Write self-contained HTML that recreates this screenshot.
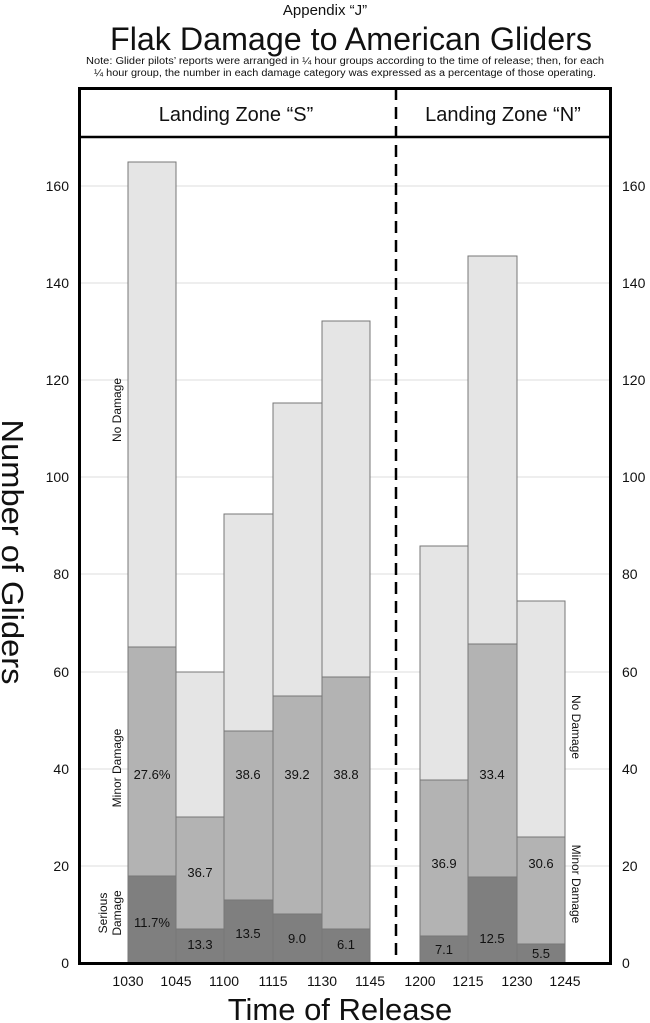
<!DOCTYPE html>
<html><head><style>body{margin:0;background:#fff}svg{display:block}text{font-family:"Liberation Sans",Arial,sans-serif;fill:#111}</style></head>
<body>
<svg width="650" height="1023" viewBox="0 0 650 1023">
<text x="325" y="15" font-size="15" text-anchor="middle">Appendix “J”</text>
<text x="351" y="50" font-size="32" text-anchor="middle" textLength="482" lengthAdjust="spacingAndGlyphs">Flak Damage to American Gliders</text>
<text x="345" y="64" font-size="10" text-anchor="middle" textLength="518" lengthAdjust="spacingAndGlyphs">Note: Glider pilots’ reports were arranged in ¼ hour groups according to the time of release; then, for each</text>
<text x="345" y="76" font-size="10" text-anchor="middle" textLength="502" lengthAdjust="spacingAndGlyphs">¼ hour group, the number in each damage category was expressed as a percentage of those operating.</text>
<g stroke="#ddd" stroke-width="1">
<line x1="80" x2="609" y1="866" y2="866"/><line x1="80" x2="609" y1="769" y2="769"/><line x1="80" x2="609" y1="672" y2="672"/><line x1="80" x2="609" y1="574" y2="574"/><line x1="80" x2="609" y1="477" y2="477"/><line x1="80" x2="609" y1="380" y2="380"/><line x1="80" x2="609" y1="283" y2="283"/><line x1="80" x2="609" y1="186" y2="186"/>
</g>
<g stroke="#777" stroke-width="1">
<rect x="128" y="162" width="48" height="801" fill="#e5e5e5"/><rect x="128" y="647" width="48" height="316" fill="#b3b3b3"/><rect x="128" y="876" width="48" height="87" fill="#7f7f7f"/>
<rect x="176" y="672" width="48" height="291" fill="#e5e5e5"/><rect x="176" y="817" width="48" height="146" fill="#b3b3b3"/><rect x="176" y="929" width="48" height="34" fill="#7f7f7f"/>
<rect x="224" y="514" width="49" height="449" fill="#e5e5e5"/><rect x="224" y="731" width="49" height="232" fill="#b3b3b3"/><rect x="224" y="900" width="49" height="63" fill="#7f7f7f"/>
<rect x="273" y="403" width="49" height="560" fill="#e5e5e5"/><rect x="273" y="696" width="49" height="267" fill="#b3b3b3"/><rect x="273" y="914" width="49" height="49" fill="#7f7f7f"/>
<rect x="322" y="321" width="48" height="642" fill="#e5e5e5"/><rect x="322" y="677" width="48" height="286" fill="#b3b3b3"/><rect x="322" y="929" width="48" height="34" fill="#7f7f7f"/>
<rect x="420" y="546" width="48" height="417" fill="#e5e5e5"/><rect x="420" y="780" width="48" height="183" fill="#b3b3b3"/><rect x="420" y="936" width="48" height="27" fill="#7f7f7f"/>
<rect x="468" y="256" width="49" height="707" fill="#e5e5e5"/><rect x="468" y="644" width="49" height="319" fill="#b3b3b3"/><rect x="468" y="877" width="49" height="86" fill="#7f7f7f"/>
<rect x="517" y="601" width="48" height="362" fill="#e5e5e5"/><rect x="517" y="837" width="48" height="126" fill="#b3b3b3"/><rect x="517" y="944" width="48" height="19" fill="#7f7f7f"/>
</g>
<g font-size="13" text-anchor="middle">
<text x="152" y="779">27.6%</text><text x="152" y="927">11.7%</text>
<text x="200" y="877">36.7</text><text x="200" y="949">13.3</text>
<text x="248" y="779">38.6</text><text x="248" y="938">13.5</text>
<text x="297" y="779">39.2</text><text x="297" y="943">9.0</text>
<text x="346" y="779">38.8</text><text x="346" y="949">6.1</text>
<text x="444" y="868">36.9</text><text x="444" y="954">7.1</text>
<text x="492" y="779">33.4</text><text x="492" y="943">12.5</text>
<text x="541" y="868">30.6</text><text x="541" y="958">5.5</text>
</g>
<g font-size="12" text-anchor="middle">
<text transform="translate(121,410) rotate(-90)">No Damage</text>
<text transform="translate(121,768) rotate(-90)">Minor Damage</text>
<text transform="translate(107,913) rotate(-90)">Serious</text>
<text transform="translate(121,913) rotate(-90)">Damage</text>
<text transform="translate(572,727) rotate(90)">No Damage</text>
<text transform="translate(572,884) rotate(90)">Minor Damage</text>
</g>
<rect x="79.5" y="88.5" width="531" height="875" fill="none" stroke="#000" stroke-width="3"/>
<line x1="79" x2="611" y1="137" y2="137" stroke="#000" stroke-width="2.5"/>
<line x1="396" x2="396" y1="88" y2="963" stroke="#000" stroke-width="2.5" stroke-dasharray="12,7"/>
<text x="236" y="121" font-size="20" text-anchor="middle">Landing Zone “S”</text>
<text x="503" y="121" font-size="20" text-anchor="middle">Landing Zone “N”</text>
<g font-size="14" text-anchor="end">
<text x="69" y="968">0</text><text x="69" y="871">20</text><text x="69" y="774">40</text><text x="69" y="677">60</text><text x="69" y="579">80</text><text x="69" y="482">100</text><text x="69" y="385">120</text><text x="69" y="288">140</text><text x="69" y="191">160</text>
</g>
<g font-size="14" text-anchor="start">
<text x="622" y="968">0</text><text x="622" y="871">20</text><text x="622" y="774">40</text><text x="622" y="677">60</text><text x="622" y="579">80</text><text x="622" y="482">100</text><text x="622" y="385">120</text><text x="622" y="288">140</text><text x="622" y="191">160</text>
</g>
<g font-size="14" text-anchor="middle">
<text x="128" y="986">1030</text><text x="176" y="986">1045</text><text x="224" y="986">1100</text><text x="273" y="986">1115</text><text x="322" y="986">1130</text><text x="370" y="986">1145</text>
<text x="420" y="986">1200</text><text x="468" y="986">1215</text><text x="517" y="986">1230</text><text x="565" y="986">1245</text>
</g>
<text x="340" y="1020" font-size="31" text-anchor="middle">Time of Release</text>
<text transform="translate(2,552) rotate(90)" font-size="31" text-anchor="middle" textLength="265" lengthAdjust="spacingAndGlyphs">Number of Gliders</text>
</svg>
</body></html>
